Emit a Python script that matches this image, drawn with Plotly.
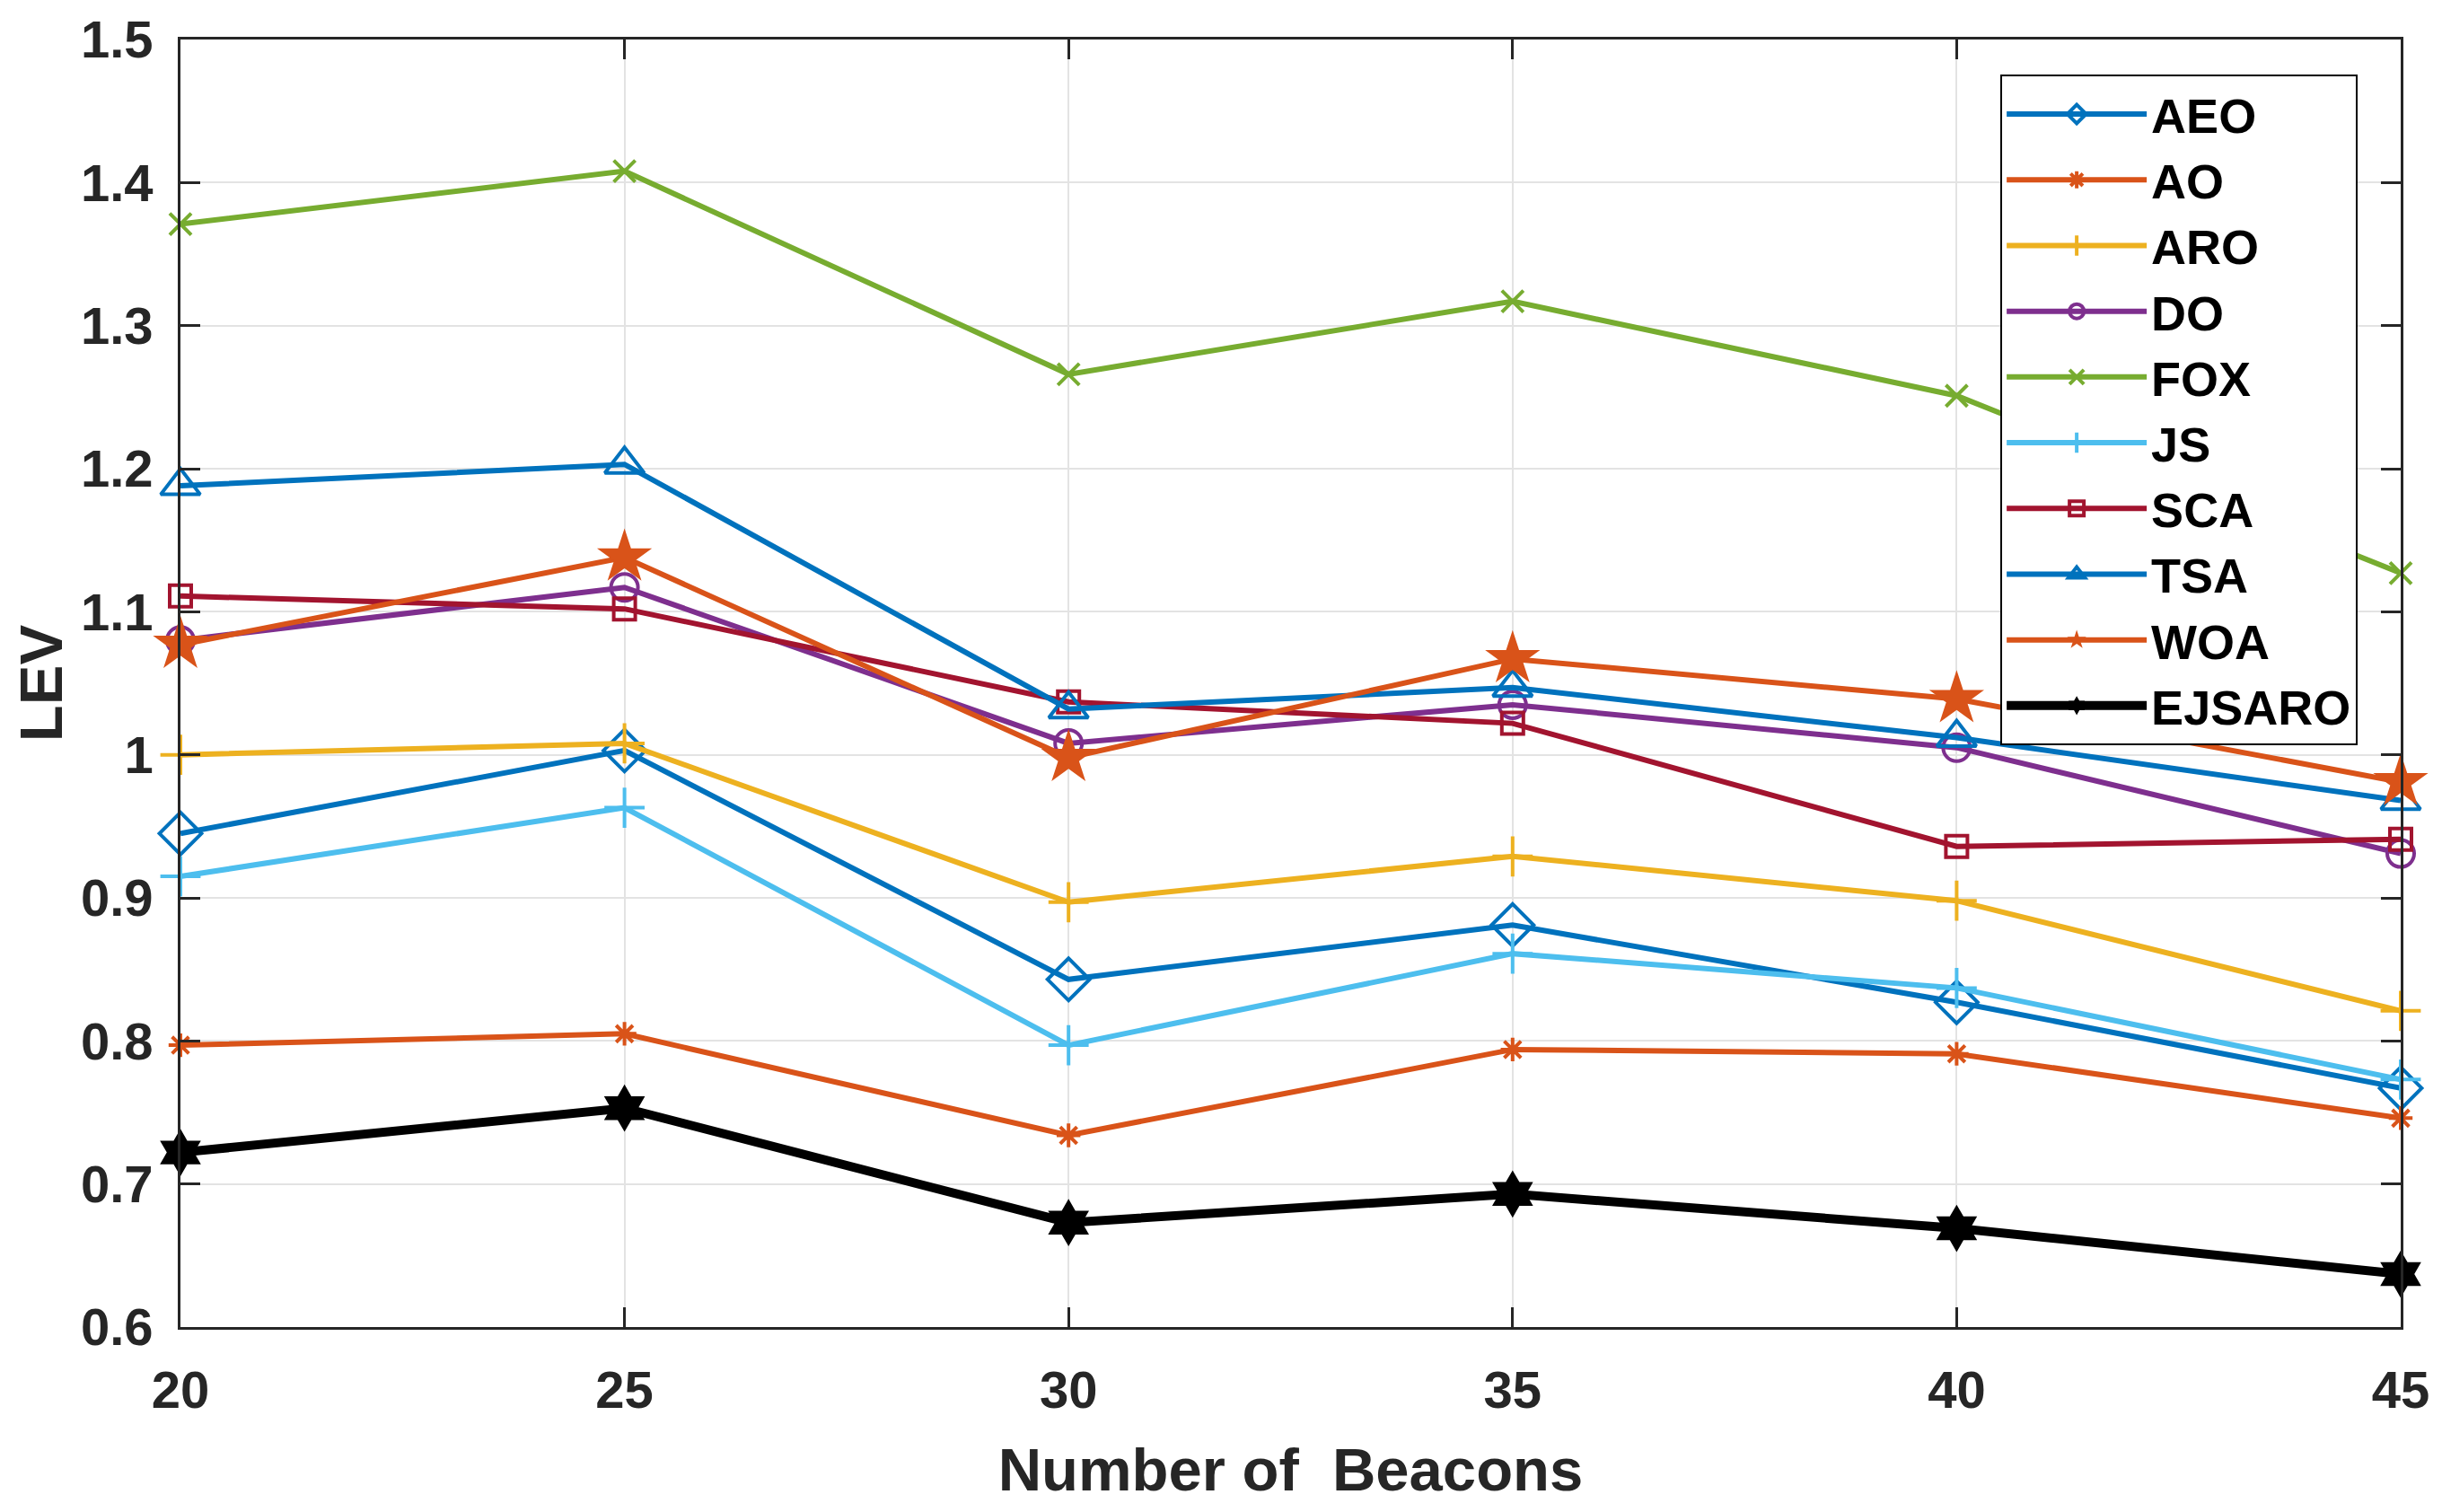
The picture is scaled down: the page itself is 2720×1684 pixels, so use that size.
import plotly.graph_objects as go

beacons = [20, 25, 30, 35, 40, 45]

aeo = [0.945, 1.003, 0.843, 0.881, 0.827, 0.767]
ao = [0.797, 0.805, 0.734, 0.794, 0.791, 0.746]
aro = [1.000, 1.008, 0.897, 0.929, 0.898, 0.821]
do_ = [1.080, 1.117, 1.008, 1.035, 1.005, 0.931]
fox = [1.371, 1.408, 1.266, 1.317, 1.251, 1.127]
js = [0.915, 0.963, 0.797, 0.861, 0.837, 0.773]
sca = [1.111, 1.102, 1.037, 1.022, 0.936, 0.941]
tsa = [1.188, 1.203, 1.032, 1.047, 1.012, 0.968]
woa = [1.077, 1.138, 0.998, 1.067, 1.039, 0.981]
ejsaro = [0.722, 0.753, 0.673, 0.693, 0.669, 0.637]

names = ["AEO", "AO", "ARO", "DO", "FOX", "JS", "SCA", "TSA", "WOA", "EJSARO"]
series = [aeo, ao, aro, do_, fox, js, sca, tsa, woa, ejsaro]

styles = [
    dict(color="#0072BD", symbol="diamond-open", size=36, lw=6, mlw=4),
    dict(color="#D95319", symbol="asterisk-open", size=22, lw=6, mlw=4),
    dict(color="#EDB120", symbol="cross-thin-open", size=32, lw=6, mlw=4),
    dict(color="#7E2F8E", symbol="circle-open", size=30, lw=6, mlw=4),
    dict(color="#77AC30", symbol="x-thin-open", size=24, lw=6, mlw=4),
    dict(color="#4DBEEE", symbol="cross-thin-open", size=32, lw=6, mlw=4),
    dict(color="#A2142F", symbol="square-open", size=24, lw=6, mlw=4),
    dict(color="#0072BD", symbol="triangle-up-open", size=38, lw=6, mlw=4),
    dict(color="#D95319", symbol="star", size=46, lw=6, mlw=0),
    dict(color="#000000", symbol="hexagram", size=40, lw=10, mlw=0),
]

fig = go.Figure()
for name, ys, st in zip(names, series, styles):
    fig.add_trace(go.Scatter(
        x=beacons, y=ys, name=name, mode="lines+markers",
        line=dict(color=st["color"], width=st["lw"]),
        marker=dict(symbol=st["symbol"], size=st["size"], color=st["color"],
                    line=dict(color=st["color"], width=st["mlw"])),
        cliponaxis=False,
    ))

tickfont = dict(family="Liberation Sans", size=58, weight="bold", color="#262626")
titlefont = dict(family="Liberation Sans", size=67, weight="bold", color="#262626")

fig.update_layout(
    width=2704, height=1668,
    margin=dict(l=193, r=38, t=36, b=198, autoexpand=False),
    paper_bgcolor="white", plot_bgcolor="white",
    showlegend=True,
    legend=dict(
        x=0.8197, y=0.9725, xanchor="left", yanchor="top",
        bgcolor="white", bordercolor="#000000", borderwidth=2,
        font=dict(family="Liberation Sans", size=54, weight="bold", color="#000000"),
        tracegroupgap=0, itemwidth=156,
    ),
    xaxis=dict(
        range=[20, 45], tickvals=beacons, ticktext=[str(b) for b in beacons],
        showgrid=True, gridcolor="#e3e3e3", gridwidth=1.5,
        showline=True, linecolor="#262626", linewidth=2.5, mirror="ticks",
        ticks="inside", ticklen=22, tickwidth=2.5, tickcolor="#262626",
        tickfont=tickfont, zeroline=False, ticklabelstandoff=18,
        ticklabeloverflow="allow",
        title=dict(text="Number of  Beacons", font=titlefont, standoff=34),
    ),
    yaxis=dict(
        range=[0.6, 1.5], dtick=0.1, tick0=0.6,
        showgrid=True, gridcolor="#e3e3e3", gridwidth=1.5,
        showline=True, linecolor="#262626", linewidth=2.5, mirror="ticks",
        ticks="inside", ticklen=22, tickwidth=2.5, tickcolor="#262626",
        tickfont=tickfont, zeroline=False, ticklabelstandoff=16,
        ticklabeloverflow="allow",
        title=dict(text="LEV", font=titlefont, standoff=26),
    ),
)

fig.write_html("out.html")
